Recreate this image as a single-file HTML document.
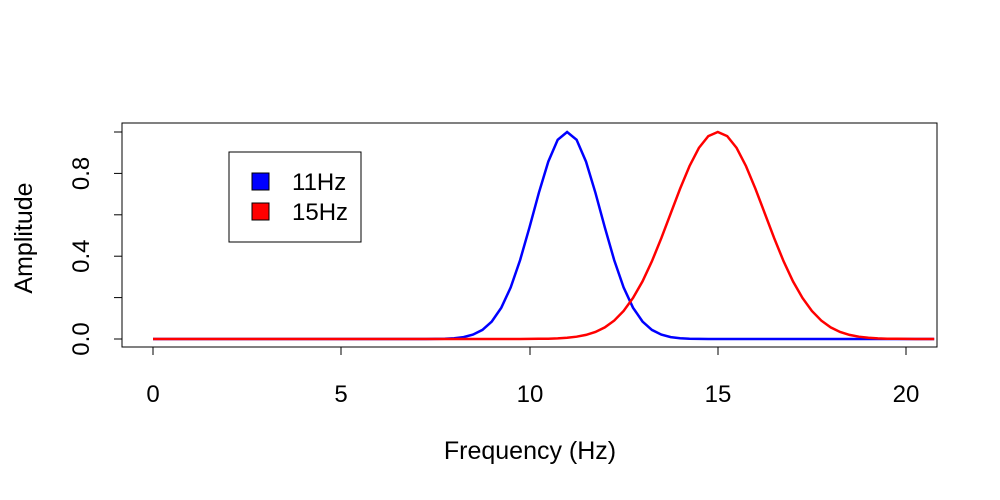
<!DOCTYPE html>
<html><head><meta charset="utf-8"><style>
body{margin:0;background:#fff}
svg{display:block;font-family:"Liberation Sans",Arial,sans-serif}
</style></head><body>
<svg id="s" width="1000" height="500" xmlns="http://www.w3.org/2000/svg">
<rect x="0" y="0" width="1000" height="500" fill="#fff"/>
<rect x="122" y="123" width="815" height="224" fill="none" stroke="#000" stroke-width="1"/>
<g stroke="#000" stroke-width="1">
<line x1="153" y1="347" x2="906" y2="347"/>
<line x1="153" y1="347" x2="153" y2="355"/>
<line x1="341" y1="347" x2="341" y2="355"/>
<line x1="530" y1="347" x2="530" y2="355"/>
<line x1="718" y1="347" x2="718" y2="355"/>
<line x1="906" y1="347" x2="906" y2="355"/>
<line x1="122" y1="339" x2="122" y2="132"/>
<line x1="114" y1="339" x2="122" y2="339"/>
<line x1="114" y1="297.6" x2="122" y2="297.6"/>
<line x1="114" y1="256.2" x2="122" y2="256.2"/>
<line x1="114" y1="214.8" x2="122" y2="214.8"/>
<line x1="114" y1="173.4" x2="122" y2="173.4"/>
<line x1="114" y1="132" x2="122" y2="132"/>
</g>
<g font-size="24" text-anchor="middle" fill="#000">
<text x="153" y="402">0</text>
<text x="341" y="402">5</text>
<text x="530" y="402">10</text>
<text x="718" y="402">15</text>
<text x="906" y="402">20</text>
<text transform="translate(89,339) rotate(-90)">0.0</text>
<text transform="translate(89,256.2) rotate(-90)">0.4</text>
<text transform="translate(89,173.4) rotate(-90)">0.8</text>
<text x="530" y="459" font-size="25">Frequency (Hz)</text>
<text transform="translate(32,238) rotate(-90)" font-size="25">Amplitude</text>
</g>
<polyline id="b" fill="none" stroke="#0000ff" stroke-width="2.5"/>
<polyline id="r" fill="none" stroke="#ff0000" stroke-width="2.5"/>
<rect x="229" y="152" width="132" height="90" fill="#fff" stroke="#000" stroke-width="1"/>
<rect x="252" y="173" width="17" height="17" fill="#0000ff" stroke="#000" stroke-width="1"/>
<rect x="252" y="203" width="17" height="17" fill="#ff0000" stroke="#000" stroke-width="1"/>
<g font-size="24" fill="#000">
<text x="292" y="190">11Hz</text>
<text x="292" y="220">15Hz</text>
</g>
</svg>
<script>
function pts(mu,sg){var a=[];for(var f=0;f<=20.85;f+=0.25){var v=Math.exp(-(f-mu)*(f-mu)/(2*sg*sg));a.push((153+f*37.65).toFixed(1)+","+(339-v*207).toFixed(1));}return a.join(" ");}
document.getElementById("b").setAttribute("points",pts(11,0.9));
document.getElementById("r").setAttribute("points",pts(15,1.25));
</script>
</body></html>
